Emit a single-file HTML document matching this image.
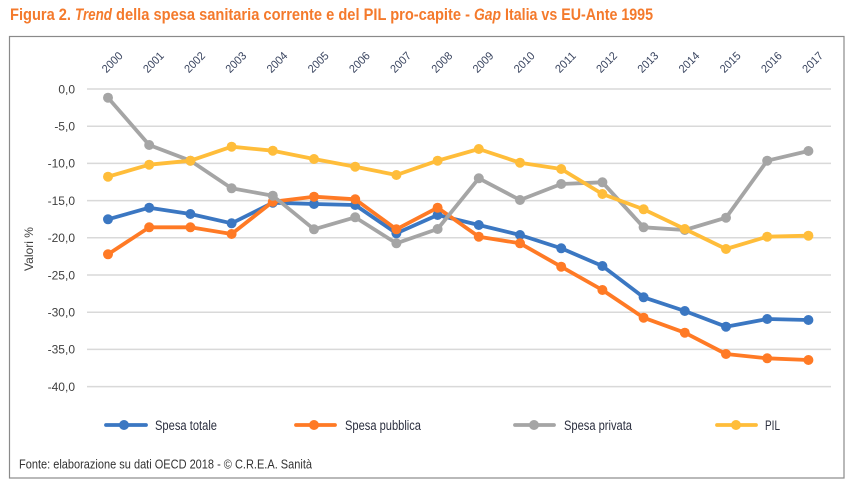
<!DOCTYPE html>
<html>
<head>
<meta charset="utf-8">
<style>
  html,body{margin:0;padding:0;background:#fff;}
  svg{display:block;}
  text{font-family:"Liberation Sans", Arial, sans-serif;}
</style>
</head>
<body>
<svg width="852" height="485" viewBox="0 0 852 485" xmlns="http://www.w3.org/2000/svg">
  <rect x="0" y="0" width="852" height="485" fill="#ffffff"/>
  <!-- Title -->
  <g fill="#F47A2C" font-weight="bold" font-size="17">
    <text x="10" y="20" textLength="61" lengthAdjust="spacingAndGlyphs">Figura 2.</text>
    <text x="75" y="20" font-style="italic" textLength="37" lengthAdjust="spacingAndGlyphs">Trend</text>
    <text x="116" y="20" textLength="354" lengthAdjust="spacingAndGlyphs">della spesa sanitaria corrente e del PIL pro-capite -</text>
    <text x="474" y="20" font-style="italic" textLength="27" lengthAdjust="spacingAndGlyphs">Gap</text>
    <text x="505" y="20" textLength="148" lengthAdjust="spacingAndGlyphs">Italia vs EU-Ante 1995</text>
  </g>
  <!-- Frame -->
  <rect x="9.5" y="36.5" width="834.5" height="441.5" fill="none" stroke="#8a8a8a" stroke-width="1.2"/>

  <!-- Gridlines -->
  <g stroke="#d9d9d9" stroke-width="1.5">
    <line x1="87" y1="89" x2="831" y2="89"/>
    <line x1="87" y1="126.2" x2="831" y2="126.2"/>
    <line x1="87" y1="163.4" x2="831" y2="163.4"/>
    <line x1="87" y1="200.6" x2="831" y2="200.6"/>
    <line x1="87" y1="237.8" x2="831" y2="237.8"/>
    <line x1="87" y1="275" x2="831" y2="275"/>
    <line x1="87" y1="312.2" x2="831" y2="312.2"/>
    <line x1="87" y1="349.4" x2="831" y2="349.4"/>
    <line x1="87" y1="386.6" x2="831" y2="386.6"/>
  </g>

  <!-- Y labels -->
  <g fill="#404040" font-size="12" text-anchor="end">
    <text x="75" y="93.3">0,0</text>
    <text x="75" y="130.5">-5,0</text>
    <text x="75" y="167.7">-10,0</text>
    <text x="75" y="204.9">-15,0</text>
    <text x="75" y="242.1">-20,0</text>
    <text x="75" y="279.3">-25,0</text>
    <text x="75" y="316.5">-30,0</text>
    <text x="75" y="353.7">-35,0</text>
    <text x="75" y="390.9">-40,0</text>
  </g>
  <text transform="translate(33,249) rotate(-90)" text-anchor="middle" fill="#404040" font-size="12" textLength="44" lengthAdjust="spacingAndGlyphs">Valori %</text>

  <!-- X labels -->
  <g fill="#3a4560" font-size="11.5" text-anchor="middle">
    <text transform="translate(115,65) rotate(-45)" textLength="24" lengthAdjust="spacingAndGlyphs">2000</text>
    <text transform="translate(156.2,65) rotate(-45)" textLength="24" lengthAdjust="spacingAndGlyphs">2001</text>
    <text transform="translate(197.4,65) rotate(-45)" textLength="24" lengthAdjust="spacingAndGlyphs">2002</text>
    <text transform="translate(238.6,65) rotate(-45)" textLength="24" lengthAdjust="spacingAndGlyphs">2003</text>
    <text transform="translate(279.8,65) rotate(-45)" textLength="24" lengthAdjust="spacingAndGlyphs">2004</text>
    <text transform="translate(321,65) rotate(-45)" textLength="24" lengthAdjust="spacingAndGlyphs">2005</text>
    <text transform="translate(362.2,65) rotate(-45)" textLength="24" lengthAdjust="spacingAndGlyphs">2006</text>
    <text transform="translate(403.4,65) rotate(-45)" textLength="24" lengthAdjust="spacingAndGlyphs">2007</text>
    <text transform="translate(444.6,65) rotate(-45)" textLength="24" lengthAdjust="spacingAndGlyphs">2008</text>
    <text transform="translate(485.8,65) rotate(-45)" textLength="24" lengthAdjust="spacingAndGlyphs">2009</text>
    <text transform="translate(527,65) rotate(-45)" textLength="24" lengthAdjust="spacingAndGlyphs">2010</text>
    <text transform="translate(568.2,65) rotate(-45)" textLength="24" lengthAdjust="spacingAndGlyphs">2011</text>
    <text transform="translate(609.4,65) rotate(-45)" textLength="24" lengthAdjust="spacingAndGlyphs">2012</text>
    <text transform="translate(650.6,65) rotate(-45)" textLength="24" lengthAdjust="spacingAndGlyphs">2013</text>
    <text transform="translate(691.8,65) rotate(-45)" textLength="24" lengthAdjust="spacingAndGlyphs">2014</text>
    <text transform="translate(733,65) rotate(-45)" textLength="24" lengthAdjust="spacingAndGlyphs">2015</text>
    <text transform="translate(774.2,65) rotate(-45)" textLength="24" lengthAdjust="spacingAndGlyphs">2016</text>
    <text transform="translate(815.4,65) rotate(-45)" textLength="24" lengthAdjust="spacingAndGlyphs">2017</text>
  </g>

  <!-- Series: Spesa totale (blue) -->
  <g id="blue">
    <polyline fill="none" stroke="#3B77C2" stroke-width="3.8" stroke-linejoin="round" stroke-linecap="round"
      points="108,219.3 149.2,207.7 190.4,214 231.6,223.3 272.8,202.7 314,204 355.2,205 396.4,233.3 437.6,215 478.8,225 520,235 561.2,248.3 602.4,266 643.6,297.3 684.8,311 726,326.7 767.2,319 808.4,320"/>
    <g fill="#3B77C2">
      <circle cx="108" cy="219.3" r="5"/><circle cx="149.2" cy="207.7" r="5"/><circle cx="190.4" cy="214" r="5"/>
      <circle cx="231.6" cy="223.3" r="5"/><circle cx="272.8" cy="202.7" r="5"/><circle cx="314" cy="204" r="5"/>
      <circle cx="355.2" cy="205" r="5"/><circle cx="396.4" cy="233.3" r="5"/><circle cx="437.6" cy="215" r="5"/>
      <circle cx="478.8" cy="225" r="5"/><circle cx="520" cy="235" r="5"/><circle cx="561.2" cy="248.3" r="5"/>
      <circle cx="602.4" cy="266" r="5"/><circle cx="643.6" cy="297.3" r="5"/><circle cx="684.8" cy="311" r="5"/>
      <circle cx="726" cy="326.7" r="5"/><circle cx="767.2" cy="319" r="5"/><circle cx="808.4" cy="320" r="5"/>
    </g>
  </g>

  <!-- Series: Spesa pubblica (orange) -->
  <g>
    <polyline fill="none" stroke="#FF7A25" stroke-width="3.8" stroke-linejoin="round" stroke-linecap="round"
      points="108,254.3 149.2,227.3 190.4,227.3 231.6,234 272.8,201.7 314,196.7 355.2,199.3 396.4,229.3 437.6,207.7 478.8,236.7 520,243.3 561.2,266.7 602.4,290 643.6,317.7 684.8,332.7 726,354 767.2,358.3 808.4,360"/>
    <g fill="#FF7A25">
      <circle cx="108" cy="254.3" r="5"/><circle cx="149.2" cy="227.3" r="5"/><circle cx="190.4" cy="227.3" r="5"/>
      <circle cx="231.6" cy="234" r="5"/><circle cx="272.8" cy="201.7" r="5"/><circle cx="314" cy="196.7" r="5"/>
      <circle cx="355.2" cy="199.3" r="5"/><circle cx="396.4" cy="229.3" r="5"/><circle cx="437.6" cy="207.7" r="5"/>
      <circle cx="478.8" cy="236.7" r="5"/><circle cx="520" cy="243.3" r="5"/><circle cx="561.2" cy="266.7" r="5"/>
      <circle cx="602.4" cy="290" r="5"/><circle cx="643.6" cy="317.7" r="5"/><circle cx="684.8" cy="332.7" r="5"/>
      <circle cx="726" cy="354" r="5"/><circle cx="767.2" cy="358.3" r="5"/><circle cx="808.4" cy="360" r="5"/>
    </g>
  </g>

  <!-- Series: Spesa privata (gray) -->
  <g>
    <polyline fill="none" stroke="#A5A5A5" stroke-width="3.8" stroke-linejoin="round" stroke-linecap="round"
      points="108,97.7 149.2,145 190.4,160.7 231.6,188.3 272.8,195.7 314,229.3 355.2,217.3 396.4,243.3 437.6,229 478.8,178.3 520,200 561.2,184 602.4,182.3 643.6,227.3 684.8,230 726,217.7 767.2,160.7 808.4,151"/>
    <g fill="#A5A5A5">
      <circle cx="108" cy="97.7" r="5"/><circle cx="149.2" cy="145" r="5"/><circle cx="190.4" cy="160.7" r="5"/>
      <circle cx="231.6" cy="188.3" r="5"/><circle cx="272.8" cy="195.7" r="5"/><circle cx="314" cy="229.3" r="5"/>
      <circle cx="355.2" cy="217.3" r="5"/><circle cx="396.4" cy="243.3" r="5"/><circle cx="437.6" cy="229" r="5"/>
      <circle cx="478.8" cy="178.3" r="5"/><circle cx="520" cy="200" r="5"/><circle cx="561.2" cy="184" r="5"/>
      <circle cx="602.4" cy="182.3" r="5"/><circle cx="643.6" cy="227.3" r="5"/><circle cx="684.8" cy="230" r="5"/>
      <circle cx="726" cy="217.7" r="5"/><circle cx="767.2" cy="160.7" r="5"/><circle cx="808.4" cy="151" r="5"/>
    </g>
  </g>

  <!-- Series: PIL (yellow) -->
  <g>
    <polyline fill="none" stroke="#FFBD3A" stroke-width="3.8" stroke-linejoin="round" stroke-linecap="round"
      points="108,176.7 149.2,164.7 190.4,160.7 231.6,146.7 272.8,150.7 314,159 355.2,166.7 396.4,175 437.6,160.7 478.8,149 520,162.7 561.2,169 602.4,194 643.6,209.3 684.8,229 726,249 767.2,236.7 808.4,235.7"/>
    <g fill="#FFBD3A">
      <circle cx="108" cy="176.7" r="5"/><circle cx="149.2" cy="164.7" r="5"/><circle cx="190.4" cy="160.7" r="5"/>
      <circle cx="231.6" cy="146.7" r="5"/><circle cx="272.8" cy="150.7" r="5"/><circle cx="314" cy="159" r="5"/>
      <circle cx="355.2" cy="166.7" r="5"/><circle cx="396.4" cy="175" r="5"/><circle cx="437.6" cy="160.7" r="5"/>
      <circle cx="478.8" cy="149" r="5"/><circle cx="520" cy="162.7" r="5"/><circle cx="561.2" cy="169" r="5"/>
      <circle cx="602.4" cy="194" r="5"/><circle cx="643.6" cy="209.3" r="5"/><circle cx="684.8" cy="229" r="5"/>
      <circle cx="726" cy="249" r="5"/><circle cx="767.2" cy="236.7" r="5"/><circle cx="808.4" cy="235.7" r="5"/>
    </g>
  </g>

  <!-- Legend -->
  <g stroke-width="3.8" stroke-linecap="round">
    <line x1="106" y1="425" x2="146" y2="425" stroke="#3B77C2"/>
    <line x1="296" y1="425" x2="335" y2="425" stroke="#FF7A25"/>
    <line x1="515" y1="425" x2="554" y2="425" stroke="#A5A5A5"/>
    <line x1="717" y1="425" x2="756" y2="425" stroke="#FFBD3A"/>
  </g>
  <circle cx="124" cy="425" r="5" fill="#3B77C2"/>
  <circle cx="314" cy="425" r="5" fill="#FF7A25"/>
  <circle cx="534" cy="425" r="5" fill="#A5A5A5"/>
  <circle cx="736" cy="425" r="5" fill="#FFBD3A"/>
  <g fill="#2b2f3f" font-size="13.5">
    <text x="155" y="429.8" textLength="62" lengthAdjust="spacingAndGlyphs">Spesa totale</text>
    <text x="345" y="429.8" textLength="76" lengthAdjust="spacingAndGlyphs">Spesa pubblica</text>
    <text x="564" y="429.8" textLength="68" lengthAdjust="spacingAndGlyphs">Spesa privata</text>
    <text x="765" y="429.8" textLength="15" lengthAdjust="spacingAndGlyphs">PIL</text>
  </g>

  <!-- Source -->
  <text x="19" y="468.5" fill="#333333" font-size="12.5" textLength="293" lengthAdjust="spacingAndGlyphs">Fonte: elaborazione su dati OECD 2018 - © C.R.E.A. Sanità</text>
</svg>
</body>
</html>
